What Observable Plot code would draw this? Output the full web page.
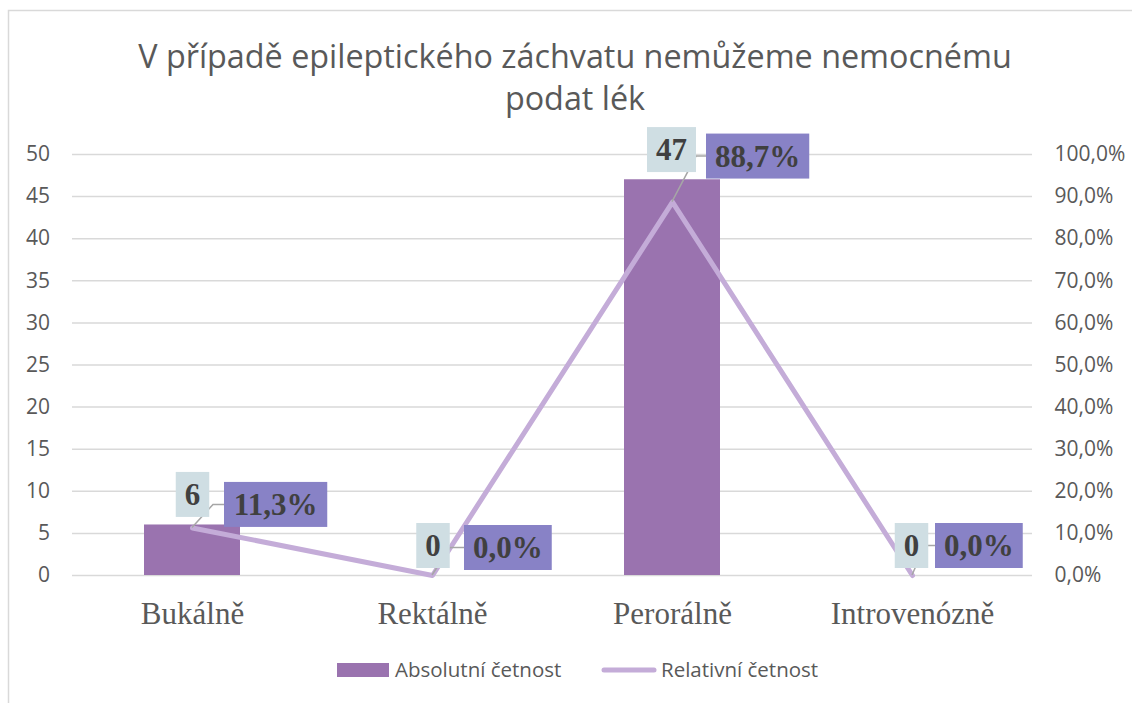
<!DOCTYPE html>
<html><head><meta charset="utf-8">
<script src="https://cdn.jsdelivr.net/npm/d3@7"></script>
<script src="https://cdn.jsdelivr.net/npm/@observablehq/plot@0.6"></script>
<style>
html,body{margin:0;padding:0;background:#fff;}
#wrap{position:relative;width:1132px;height:703px;overflow:hidden;}
#chart{position:absolute;left:0;top:0;}
#overlay{position:absolute;left:0;top:0;}
#chart g[aria-label^="x-axis"] text{font-family:"Liberation Serif",serif;font-size:31px;fill:#595959;}
#chart g[aria-label^="y-axis"] text{font-family:"Open Sans",sans-serif;font-size:21px;fill:#595959;}
</style>
</head><body>
<div id="wrap"><div id="chart"></div><svg id="overlay" width="1132" height="703"></svg></div>
<script>
// ---- data ----
const categories = ["Bukálně", "Rektálně", "Perorálně", "Introvenózně"];
const absolute = [6, 0, 47, 0];
const relative = [11.3, 0.0, 88.7, 0.0];
const rightTickLabels = ["0,0%", "10,0%", "20,0%", "30,0%", "40,0%", "50,0%", "60,0%", "70,0%", "80,0%", "90,0%", "100,0%"];
const leftTicks = [0, 5, 10, 15, 20, 25, 30, 35, 40, 45, 50];
const titleLines = ["V případě epileptického záchvatu nemůžeme nemocnému", "podat lék"];
const seriesNames = ["Absolutní četnost", "Relativní četnost"];

// ---- layout (label placement offsets, px) ----
const labelLayout = [
  {ax: 0.5, ay: -33, rl: 32, ry: -23, corner: 11},
  {ax: 1, ay: -29.5, rl: 32, ry: -27.5, corner: 14},
  {ax: -0.5, ay: -52, rl: 34, ry: -45.5, corner: 10},
  {ax: -0.5, ay: -29.5, rl: 23, ry: -29.5, corner: 10}
];

const colors = {bar: "#9A73AF", line: "#C4ACD8", absBox: "#CFDEE3", relBox: "#8882C6", grid: "#D9D9D9", text: "#595959", label: "#404040", leader: "#A6A6A6"};

const data = categories.map((c, i) => ({cat: c, abs: absolute[i], rel: relative[i], i}));
const fmtRel = v => v.toFixed(1).replace(".", ",") + "%";

function labelsMark(index, scales, values, dimensions) {
  const sx = scales.x, sy = scales.y;
  const bw = typeof sx.bandwidth === "function" ? sx.bandwidth() : 0;
  const g = d3.create("svg:g");
  const fs = 31, pad = 9, h = 45;
  data.forEach((d, i) => {
    const L = labelLayout[i];
    const px = sx(d.cat) + bw / 2;
    const py = sy(d.rel / 2);
    const absStr = String(d.abs), relStr = fmtRel(d.rel);
    const t1 = g.append("text").attr("font-family", "Liberation Serif").attr("font-weight", "bold").attr("font-size", fs).text(absStr);
    const t2 = g.append("text").attr("font-family", "Liberation Serif").attr("font-weight", "bold").attr("font-size", fs).text(relStr);
    const w1 = absStr.length * 0.5 * fs;
    let w2 = 0;
    for (const ch of relStr) w2 += ch === "," ? 0.25 : ch === "%" ? 1.0 : 0.5;
    w2 *= fs;
    const b1w = w1 + 2 * pad, b2w = w2 + 2 * pad;
    const c1x = px + L.ax, c1y = py + L.ay;
    const r2x = px + L.rl, c2y = py + L.ry;
    g.insert("path", "text").attr("d", `M${px},${py}L${r2x - L.corner},${c2y}L${r2x},${c2y}`)
      .attr("fill", "none").attr("stroke", colors.leader).attr("stroke-width", 1.5);
    g.insert("rect", "text").attr("x", c1x - b1w / 2).attr("y", c1y - h / 2).attr("width", b1w).attr("height", h).attr("fill", colors.absBox);
    g.insert("rect", "text").attr("x", r2x).attr("y", c2y - h / 2).attr("width", b2w).attr("height", h).attr("fill", colors.relBox);
    t1.attr("x", c1x).attr("y", c1y + 10.5).attr("text-anchor", "middle").attr("fill", colors.label);
    t2.attr("x", r2x + b2w / 2).attr("y", c2y + 10.5).attr("text-anchor", "middle").attr("fill", colors.label);
  });
  return g.node();
}

const chart = Plot.plot({
  width: 1132, height: 703,
  marginTop: 154, marginBottom: 128, marginLeft: 72, marginRight: 100,
  style: {background: "transparent", fontFamily: "'Open Sans', sans-serif", fontSize: "21px", color: "#595959", overflow: "visible"},
  x: {domain: categories, paddingInner: 0.6, paddingOuter: 0.3, align: 0.5, tickSize: 0, tickPadding: 26, label: null},
  y: {domain: [0, 50], ticks: 10, tickSize: 0, tickPadding: 22.5, label: null},
  marks: [
    Plot.ruleY(leftTicks, {stroke: colors.grid, strokeWidth: 1.5}),
    Plot.barY(data, {x: "cat", y: "abs", fill: colors.bar}),
    Plot.line(data, {x: "cat", y: d => d.rel / 2, stroke: colors.line, strokeWidth: 5, strokeLinejoin: "round", strokeLinecap: "round"}),
    Plot.text(leftTicks, {y: d => d, frameAnchor: "right", dx: 22, textAnchor: "start", text: (d, i) => rightTickLabels[i], fill: colors.text, fontSize: 21}),
    labelsMark
  ]
});
document.getElementById("chart").appendChild(chart);

// ---- overlay: frame, title, legend ----
const ov = d3.select("#overlay");
ov.append("path").attr("d", "M8.5,703V10.5H1132").attr("fill", "none").attr("stroke", colors.grid).attr("stroke-width", 1.5);
const title = ov.append("text").attr("font-family", "Open Sans").attr("fill", colors.text).attr("text-anchor", "middle").attr("font-size", 30);
const ts1 = title.append("tspan").attr("x", 575).attr("y", 68).text(titleLines[0]);
const target = 874;
const w = ts1.node().getComputedTextLength();
const tfs = 30 * target / w;
title.attr("font-size", tfs);
title.append("tspan").attr("x", 575).attr("y", 110).text(titleLines[1]);

const lg = ov.append("g").attr("font-family", "Open Sans").attr("font-size", 20.5).attr("fill", colors.text);
lg.append("rect").attr("x", 337).attr("y", 663).attr("width", 52).attr("height", 14).attr("fill", colors.bar);
lg.append("text").attr("x", 395).attr("y", 677).text(seriesNames[0]);
lg.append("line").attr("x1", 604).attr("x2", 654).attr("y1", 670).attr("y2", 670).attr("stroke", colors.line).attr("stroke-width", 5).attr("stroke-linecap", "round");
lg.append("text").attr("x", 661).attr("y", 677).text(seriesNames[1]);
</script>
</body></html>
